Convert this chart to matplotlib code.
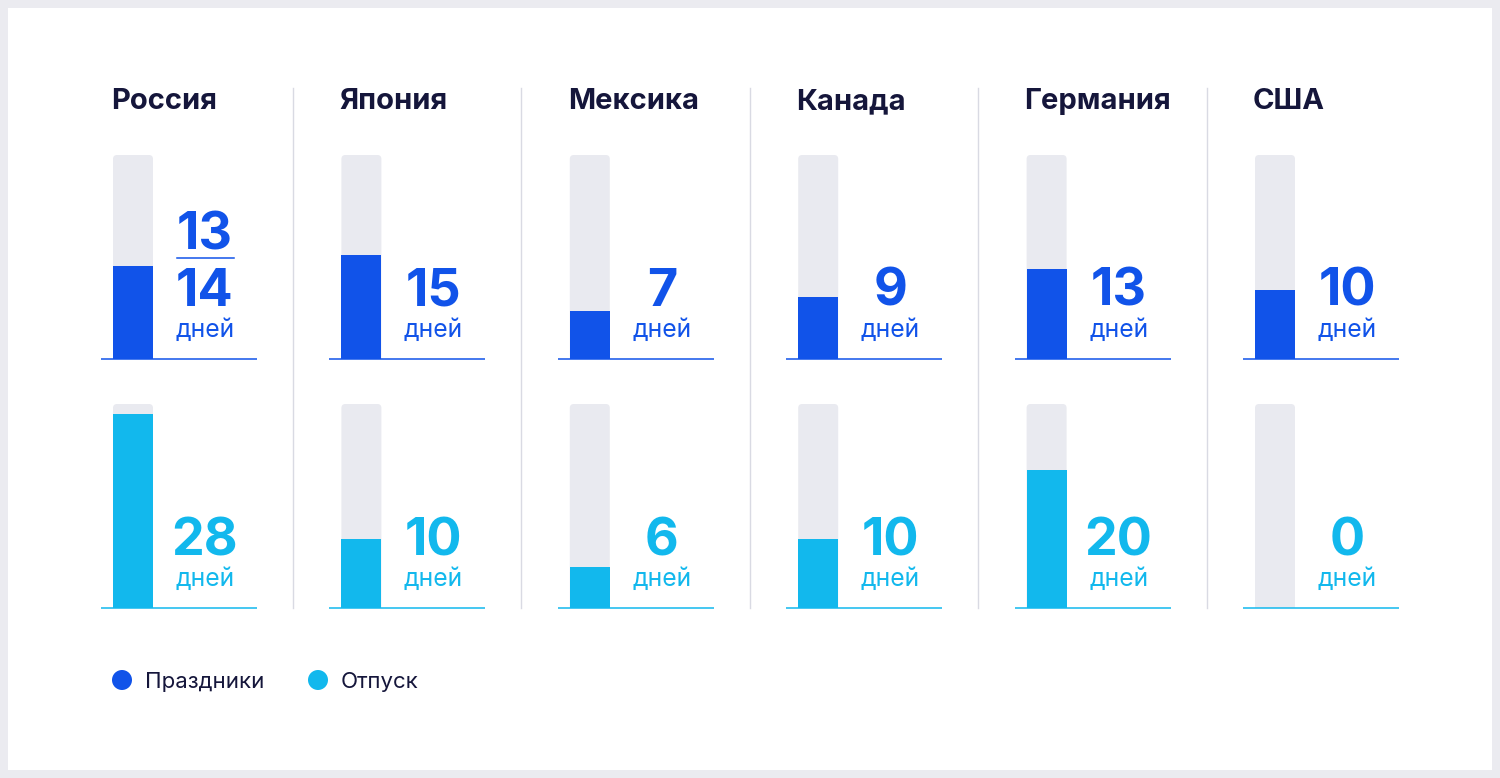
import matplotlib
matplotlib.use("Agg")
import matplotlib.pyplot as plt
from matplotlib.patches import FancyBboxPatch, Rectangle, Ellipse
from matplotlib.lines import Line2D

plt.rcParams['font.family'] = ['Inter', 'DejaVu Sans']

# ---- data ----
countries = ["Россия", "Япония", "Мексика", "Канада", "Германия", "США"]
holidays = [13.5, 15, 7, 9, 13, 10]          # bar heights (Russia: 13/14)
holiday_labels = ["14", "15", "7", "9", "13", "10"]
vacation = [28, 10, 6, 10, 20, 0]
vacation_labels = ["28", "10", "6", "10", "20", "0"]
unit = "дней"
legend_labels = ["Праздники", "Отпуск"]
scale_max = 29.5

# ---- style ----
W, H = 1500, 778
DARK = "#1153e9"
CYAN = "#12b8ed"
GRAY = "#e9eaf0"
NAVY = "#15163b"
DIV = "#d9dae3"

fig = plt.figure(figsize=(W / 100, H / 100), dpi=100)
fig.patch.set_facecolor("#ebebf0")
fig.patches.append(Rectangle((8 / W, 8 / H), (W - 16) / W, (H - 16) / H,
                             transform=fig.transFigure, facecolor="white",
                             edgecolor="none", zorder=-5))

col_w = 228.4
c0 = 133.0  # first bar center px
xmin = (0 - c0) / col_w
xmax = (W - c0) / col_w
bar_w = 40 / col_w


def fy(py):
    return 1 - py / H


def make_row(top_px, bottom_px, values, labels, color, special=None):
    ax = fig.add_axes([0, fy(bottom_px), 1, (bottom_px - top_px) / H])
    ax.set_zorder(2)
    ax.set_xlim(xmin, xmax)
    ax.set_ylim(0, scale_max)
    ax.axis("off")
    ax.patch.set_alpha(0)
    px_per_unit_y = (bottom_px - top_px) / scale_max
    # background rounded bars
    for i in range(len(values)):
        bg = FancyBboxPatch((i - bar_w / 2, -2), bar_w, scale_max + 2,
                            boxstyle="round,pad=0,rounding_size=%f" % (4 / col_w),
                            mutation_aspect=(col_w / px_per_unit_y),
                            facecolor=GRAY, edgecolor="none", zorder=1)
        ax.add_patch(bg)
    ax.bar(range(len(values)), values, width=bar_w, color=color, zorder=2)
    for i in range(len(values)):
        ax.plot([i - 32 / col_w, i + 124 / col_w], [0, 0], color=color,
                lw=1.1, solid_capstyle="butt", zorder=3, clip_on=False)
        tx = i + 72 / col_w
        ax.text(tx, 53 / px_per_unit_y, labels[i], ha="center", va="baseline",
                fontsize=37.5, fontweight="bold", color=color, zorder=4)
        ax.text(tx, 22 / px_per_unit_y, unit, ha="center", va="baseline",
                fontsize=17.8, color=color, zorder=4)
    if special is not None:
        i, txt = special
        tx = i + 72 / col_w
        ax.text(tx, 110 / px_per_unit_y, txt, ha="center", va="baseline",
                fontsize=37.5, fontweight="bold", color=color, zorder=4)
        ax.plot([tx - 28.5 / col_w, tx + 28.5 / col_w],
                [101 / px_per_unit_y] * 2, color=color, lw=1.1, zorder=4)
    return ax


make_row(155, 359, holidays, holiday_labels, DARK, special=(0, "13"))
make_row(404, 608, vacation, vacation_labels, CYAN)

# titles
for i, name in enumerate(countries):
    x = (c0 - 22 + i * col_w) / W
    fig.text(x, fy(109), name, ha="left", va="baseline", fontsize=21,
             fontweight="bold", color=NAVY)

# dividers
for i in range(5):
    x = (293 + i * col_w) / W
    fig.add_artist(Line2D([x, x], [fy(88), fy(608)], transform=fig.transFigure,
                          color=DIV, lw=1))

# legend
for (cx, tx), lab, col in zip([(122, 145), (318, 341)], legend_labels, [DARK, CYAN]):
    fig.patches.append(Ellipse((cx / W, fy(680)), 20 / W, 20 / H,
                               transform=fig.transFigure,
                               facecolor=col, edgecolor="none"))
    fig.text(tx / W, fy(680), lab, ha="left", va="center_baseline", fontsize=16,
             color=NAVY)

fig.savefig("out.png", dpi=100, facecolor=fig.get_facecolor())
